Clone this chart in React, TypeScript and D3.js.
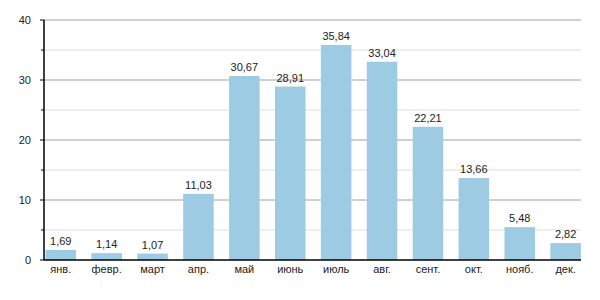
import React from "react";
import * as d3 from "d3";

const months = ["янв.", "февр.", "март", "апр.", "май", "июнь", "июль", "авг.", "сент.", "окт.", "нояб.", "дек."];
const values = [1.69, 1.14, 1.07, 11.03, 30.67, 28.91, 35.84, 33.04, 22.21, 13.66, 5.48, 2.82];
const majorTicks = [0, 10, 20, 30, 40];
const minorTicks = [5, 15, 25, 35];

const W = 600, H = 300;
const axisX = 44, plotRight = 581;

export default function App() {
  const y = d3.scaleLinear().domain([0, 40]).range([260, 20]);
  const x = d3.scaleBand<string>()
    .domain(months)
    .range([45.5, 45.5 + 11 * 45.9 + 30.5])
    .paddingInner(0.335)
    .paddingOuter(0);
  const fmt = (v: number) => v.toFixed(2).replace(".", ",");
  const font = "'Liberation Sans', Arial, Helvetica, sans-serif";
  return (
    <svg width={W} height={H} style={{ position: "absolute", left: 0, top: 0, background: "#fff" }} fontFamily={font}>
      {minorTicks.map(t => (
        <g key={"m" + t}>
          <line x1={axisX} x2={plotRight} y1={y(t)} y2={y(t)} stroke="#dedede" strokeWidth={1} />
          <line x1={axisX - 3} x2={axisX} y1={y(t)} y2={y(t)} stroke="#000" strokeWidth={1} />
        </g>
      ))}
      {majorTicks.filter(t => t > 0).map(t => (
        <line key={"g" + t} x1={axisX} x2={plotRight} y1={y(t)} y2={y(t)} stroke="#a0a0a0" strokeWidth={1} />
      ))}
      {majorTicks.map(t => (
        <g key={"t" + t}>
          <line x1={axisX - 4} x2={axisX} y1={y(t)} y2={y(t)} stroke="#000" strokeWidth={1} />
          <text x={31} y={y(t)} dy="0.35em" textAnchor="end" fontSize={11} fill="#222">{t}</text>
        </g>
      ))}
      {months.map((m, i) => (
        <g key={m}>
          <rect x={x(m)!} y={y(values[i])} width={x.bandwidth()} height={y(0) - y(values[i])} fill="#9ccbe3" />
          <text x={x(m)! + x.bandwidth() / 2} y={y(values[i]) - 5} textAnchor="middle" fontSize={11} fill="#222">{fmt(values[i])}</text>
          <text x={x(m)! + x.bandwidth() / 2} y={269} dy="0.35em" textAnchor="middle" fontSize={11} fill="#222">{m}</text>
        </g>
      ))}
      <line x1={axisX} x2={axisX} y1={y(40)} y2={y(0)} stroke="#000" strokeWidth={1.5} />
      <line x1={axisX} x2={plotRight} y1={y(0)} y2={y(0)} stroke="#000" strokeWidth={1.5} />
    </svg>
  );
}
